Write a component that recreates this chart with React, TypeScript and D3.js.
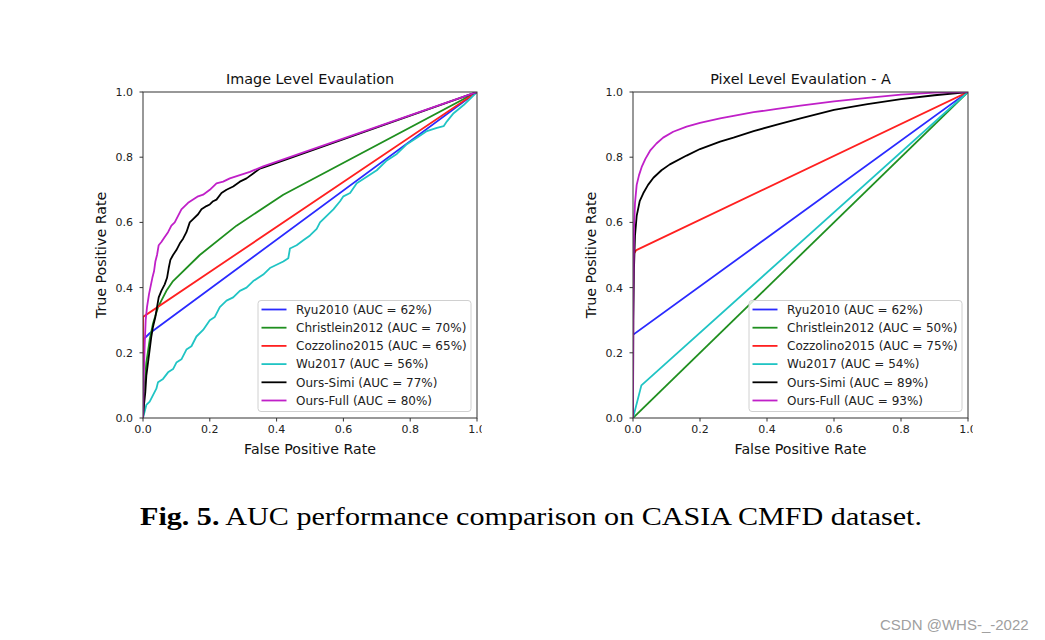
import React from "react";
import * as d3 from "d3";

type Pt = [number, number];

// ---------- Data (FPR, TPR) ----------
const seriesNames = ["Ryu2010", "Christlein2012", "Cozzolino2015", "Wu2017", "Ours-Simi", "Ours-Full"];
const seriesColors = ["#2a2aff", "#1f8f1f", "#ff2020", "#20c4c4", "#000000", "#c020c8"];
const imageAuc = [62, 70, 65, 56, 77, 80];
const pixelAuc = [62, 50, 75, 54, 89, 93];
const tickValues = [0, 0.2, 0.4, 0.6, 0.8, 1.0];

const imgRyu: Pt[] = [[0, 0], [0, 0.24], [0.02, 0.26], [1, 1]];
const imgChristlein: Pt[] = [[0, 0], [0.005, 0.1], [0.01, 0.17], [0.02, 0.24], [0.03, 0.29], [0.045, 0.34], [0.07, 0.39], [0.09, 0.42], [0.17, 0.5], [0.28, 0.59], [0.42, 0.685], [1, 1]];
const imgCozzolino: Pt[] = [[0, 0], [0, 0.31], [1, 1]];
const imgWu: Pt[] = [[0, 0], [0.005, 0.02], [0.01, 0.04], [0.02, 0.05], [0.03, 0.07], [0.04, 0.09], [0.045, 0.11], [0.06, 0.12], [0.075, 0.14], [0.09, 0.15], [0.1, 0.17], [0.115, 0.18], [0.13, 0.21], [0.145, 0.22], [0.16, 0.25], [0.18, 0.27], [0.2, 0.3], [0.215, 0.31], [0.23, 0.34], [0.25, 0.36], [0.27, 0.37], [0.29, 0.39], [0.31, 0.4], [0.33, 0.42], [0.36, 0.44], [0.38, 0.46], [0.4, 0.47], [0.42, 0.48], [0.435, 0.49], [0.44, 0.52], [0.46, 0.53], [0.48, 0.545], [0.5, 0.56], [0.52, 0.58], [0.53, 0.6], [0.55, 0.62], [0.57, 0.64], [0.59, 0.665], [0.6, 0.68], [0.62, 0.69], [0.64, 0.72], [0.67, 0.74], [0.7, 0.76], [0.73, 0.79], [0.76, 0.81], [0.79, 0.84], [0.82, 0.86], [0.85, 0.88], [0.88, 0.89], [0.9, 0.895], [0.91, 0.91], [0.93, 0.935], [0.96, 0.96], [0.98, 0.98], [1, 1]];
const imgSimi: Pt[] = [[0, 0], [0.003, 0.04], [0.007, 0.08], [0.01, 0.13], [0.015, 0.17], [0.02, 0.21], [0.025, 0.25], [0.03, 0.28], [0.037, 0.31], [0.042, 0.34], [0.047, 0.37], [0.055, 0.39], [0.065, 0.41], [0.072, 0.43], [0.077, 0.46], [0.082, 0.485], [0.09, 0.5], [0.1, 0.515], [0.11, 0.535], [0.12, 0.55], [0.13, 0.57], [0.14, 0.6], [0.15, 0.61], [0.165, 0.625], [0.175, 0.64], [0.19, 0.65], [0.2, 0.655], [0.21, 0.665], [0.22, 0.67], [0.235, 0.69], [0.25, 0.7], [0.27, 0.71], [0.29, 0.725], [0.31, 0.735], [0.33, 0.75], [0.35, 0.765], [0.37, 0.772], [1, 1]];
const imgFull: Pt[] = [[0, 0], [0.002, 0.12], [0.005, 0.22], [0.008, 0.3], [0.012, 0.34], [0.018, 0.38], [0.022, 0.4], [0.028, 0.43], [0.033, 0.45], [0.037, 0.48], [0.042, 0.5], [0.047, 0.53], [0.055, 0.54], [0.065, 0.555], [0.075, 0.57], [0.085, 0.59], [0.095, 0.6], [0.105, 0.62], [0.115, 0.64], [0.125, 0.65], [0.135, 0.66], [0.15, 0.67], [0.165, 0.68], [0.18, 0.685], [0.2, 0.7], [0.21, 0.71], [0.22, 0.72], [0.24, 0.725], [0.26, 0.735], [0.29, 0.745], [0.32, 0.755], [0.36, 0.772], [1, 1]];

const pixRyu: Pt[] = [[0, 0], [0, 0.255], [1, 1]];
const pixChristlein: Pt[] = [[0, 0], [1, 1]];
const pixCozzolino: Pt[] = [[0, 0], [0, 0.5], [0.01, 0.515], [1, 1]];
const pixWu: Pt[] = [[0, 0], [0.025, 0.1], [1, 1]];
const pixSimi: Pt[] = [[0, 0], [0.001, 0.3], [0.003, 0.46], [0.006, 0.56], [0.011, 0.62], [0.02, 0.665], [0.031, 0.69], [0.045, 0.715], [0.061, 0.737], [0.085, 0.76], [0.11, 0.778], [0.16, 0.805], [0.2, 0.825], [0.26, 0.848], [0.3, 0.86], [0.36, 0.88], [0.43, 0.9], [0.5, 0.919], [0.6, 0.945], [0.7, 0.963], [0.8, 0.978], [0.9, 0.99], [1, 1]];
const pixFull: Pt[] = [[0, 0], [0.001, 0.4], [0.003, 0.58], [0.006, 0.66], [0.011, 0.715], [0.018, 0.745], [0.026, 0.77], [0.037, 0.795], [0.051, 0.82], [0.07, 0.842], [0.09, 0.86], [0.12, 0.878], [0.16, 0.894], [0.2, 0.905], [0.26, 0.919], [0.3, 0.927], [0.36, 0.938], [0.43, 0.948], [0.5, 0.958], [0.6, 0.971], [0.7, 0.982], [0.8, 0.992], [0.9, 0.998], [1, 1]];

const imageSeries = [imgRyu, imgChristlein, imgCozzolino, imgWu, imgSimi, imgFull];
const pixelSeries = [pixRyu, pixChristlein, pixCozzolino, pixWu, pixSimi, pixFull];

const FONT = "'DejaVu Sans', sans-serif";

function Panel(props: { id: string; x0: number; x1: number; y0: number; y1: number; title: string; series: Pt[][]; auc: number[] }) {
  const { id, x0, x1, y0, y1, title, series, auc } = props;
  const x = d3.scaleLinear().domain([0, 1]).range([x0, x1]);
  const y = d3.scaleLinear().domain([0, 1]).range([y1, y0]);
  const line = d3.line<Pt>().x((d) => x(d[0])).y((d) => y(d[1]));
  const cx = (x0 + x1) / 2;
  const cy = (y0 + y1) / 2;
  const legW = 213, legH = 111;
  const legX = x1 - 6 - legW, legY = y1 - 6.5 - legH;
  return (
    <g>
      <defs>
        <clipPath id={`plot-${id}`}>
          <rect x={x0} y={y0} width={x1 - x0} height={y1 - y0} />
        </clipPath>
        <clipPath id={`xt-${id}`}>
          <rect x={x0 - 50} y={y1} width={x1 + 4.7 - (x0 - 50)} height={40} />
        </clipPath>
      </defs>
      <text x={cx} y={84} textAnchor="middle" fontSize={14.4} fontFamily={FONT} fill="#111">{title}</text>
      <g clipPath={`url(#plot-${id})`}>
        {series.map((s, i) => (
          <path key={i} d={line(s) || ""} fill="none" stroke={seriesColors[i]} strokeWidth={1.8} strokeLinejoin="round" />
        ))}
      </g>
      <rect x={x0} y={y0} width={x1 - x0} height={y1 - y0} fill="none" stroke="#333" strokeWidth={1} />
      {tickValues.map((t) => (
        <g key={`xt${t}`}>
          <line x1={x(t)} x2={x(t)} y1={y1} y2={y1 + 3.5} stroke="#333" strokeWidth={1} />
        </g>
      ))}
      <g clipPath={`url(#xt-${id})`}>
        {tickValues.map((t) => (
          <text key={`xl${t}`} x={x(t)} y={433} textAnchor="middle" fontSize={11} fontFamily={FONT} fill="#222">{t.toFixed(1)}</text>
        ))}
      </g>
      {tickValues.map((t) => (
        <g key={`yt${t}`}>
          <line x1={x0 - 3.5} x2={x0} y1={y(t)} y2={y(t)} stroke="#333" strokeWidth={1} />
          <text x={x0 - 10} y={y(t) + 4} textAnchor="end" fontSize={11} fontFamily={FONT} fill="#222">{t.toFixed(1)}</text>
        </g>
      ))}
      <text x={cx} y={454} textAnchor="middle" fontSize={14.2} fontFamily={FONT} fill="#111">False Positive Rate</text>
      <text transform={`translate(${x0 - 42},${cy}) rotate(-90)`} textAnchor="middle" fontSize={14.2} fontFamily={FONT} fill="#111" dy="0.35em">True Positive Rate</text>
      <rect x={legX} y={legY} width={legW} height={legH} rx={3} fill="#fff" fillOpacity={0.8} stroke="#d0d0d0" strokeWidth={1} />
      {seriesNames.map((n, i) => {
        const ly = legY + 9 + i * 18.2;
        return (
          <g key={n}>
            <line x1={legX + 3.5} x2={legX + 28.5} y1={ly} y2={ly} stroke={seriesColors[i]} strokeWidth={1.8} />
            <text x={legX + 38} y={ly + 4.3} fontSize={12} fontFamily={FONT} fill="#222">{`${n} (AUC = ${auc[i]}%)`}</text>
          </g>
        );
      })}
    </g>
  );
}

export default function App() {
  return (
    <svg width={1045} height={640} style={{ position: "absolute", left: 0, top: 0, background: "#fff" }}>
      <rect x={0} y={0} width={1045} height={640} fill="#fff" />
      <Panel id="a" x0={143} x1={477} y0={92} y1={418} title="Image Level Evaulation" series={imageSeries} auc={imageAuc} />
      <Panel id="b" x0={633} x1={968} y0={92} y1={418} title="Pixel Level Evaulation - A" series={pixelSeries} auc={pixelAuc} />
      <text x={140} y={525} fontSize={25} fontFamily="'Liberation Serif', 'DejaVu Serif', serif" fill="#000" textLength={782} lengthAdjust="spacingAndGlyphs">
        <tspan fontWeight="bold">Fig. 5.</tspan>
        <tspan> AUC performance comparison on CASIA CMFD dataset.</tspan>
      </text>
      <text x={880} y={630} fontSize={15} fontFamily="'Liberation Sans', Arial, sans-serif" fill="#a0a0a0">CSDN @WHS-_-2022</text>
    </svg>
  );
}
